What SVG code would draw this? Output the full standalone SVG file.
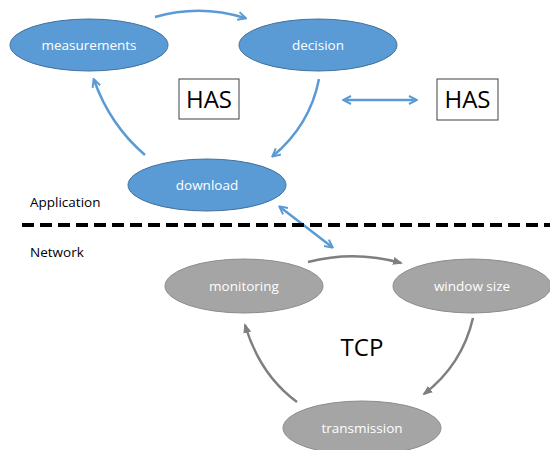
<svg xmlns="http://www.w3.org/2000/svg" width="550" height="450" viewBox="0 0 550 450">
<defs>
<style>
.bn{fill:#5B9BD5;stroke:#41719C;stroke-width:1}
.gn{fill:#A5A5A5;stroke:#8C8C8C;stroke-width:1}
.nt{font-family:"Open Sans","Liberation Sans",sans-serif;font-size:13.5px;fill:#FFFFFF;text-anchor:middle}
.lt{font-family:"Open Sans","Liberation Sans",sans-serif;font-size:13.5px;fill:#000000}
.big{font-family:"Open Sans","Liberation Sans",sans-serif;font-size:24px;fill:#000000;text-anchor:middle}
.box{fill:#FFFFFF;stroke:#404040;stroke-width:1}
.ba{fill:none;stroke:#5B9BD5;stroke-width:2.5}
.ga{fill:none;stroke:#7F7F7F;stroke-width:2.5}
</style>
<marker id="bh" viewBox="0 0 10 10" refX="8" refY="5" markerWidth="4" markerHeight="4" orient="auto-start-reverse" markerUnits="strokeWidth">
<path d="M1,1 L9,5 L1,9" fill="none" stroke="#5B9BD5" stroke-width="2"/>
</marker>
<marker id="gh" viewBox="0 0 10 10" refX="8" refY="5" markerWidth="4" markerHeight="4" orient="auto" markerUnits="strokeWidth">
<path d="M0,1 L10,5 L0,9 Z" fill="#7F7F7F"/>
</marker>
</defs>
<rect width="550" height="450" fill="#FFFFFF"/>

<g id="connectors">
<path class="ba" d="M155,17 Q200,4 245,18" marker-end="url(#bh)"/>
<path class="ba" d="M319,79 Q310,125 273,156" marker-end="url(#bh)"/>
<path class="ba" d="M145,155 Q110,125 94,80" marker-end="url(#bh)"/>
<path class="ba" d="M344,100 L416,100" marker-start="url(#bh)" marker-end="url(#bh)"/>
<path class="ba" d="M280,207 L332,247" marker-start="url(#bh)" marker-end="url(#bh)"/>
<path class="ga" d="M308,262 Q355,250 401,263" marker-end="url(#gh)"/>
<path class="ga" d="M473,318 Q462,365 424,394" marker-end="url(#gh)"/>
<path class="ga" d="M297,402 Q260,375 245,325" marker-end="url(#gh)"/>
</g>

<g id="divider">
<line x1="22" y1="225" x2="550" y2="225" stroke="#000000" stroke-width="4" stroke-dasharray="12,6"/>
<text class="lt" x="30" y="207">Application</text>
<text class="lt" x="30" y="257">Network</text>
</g>

<g id="measurements">
<ellipse class="bn" cx="89" cy="45" rx="79" ry="26"/>
<text class="nt" x="89" y="50">measurements</text>
</g>
<g id="decision">
<ellipse class="bn" cx="318" cy="45" rx="79" ry="26"/>
<text class="nt" x="318" y="50">decision</text>
</g>
<g id="download">
<ellipse class="bn" cx="207" cy="185" rx="79" ry="26"/>
<text class="nt" x="207" y="190">download</text>
</g>
<g id="has1">
<rect class="box" x="179" y="79" width="60" height="40"/>
<text class="big" x="209" y="108">HAS</text>
</g>
<g id="has2">
<rect class="box" x="437" y="79" width="61" height="41"/>
<text class="big" x="467.5" y="108">HAS</text>
</g>

<g id="monitoring">
<ellipse class="gn" cx="244" cy="286" rx="79" ry="27"/>
<text class="nt" x="244" y="291">monitoring</text>
</g>
<g id="window-size">
<ellipse class="gn" cx="472" cy="286" rx="79" ry="27"/>
<text class="nt" x="472" y="291">window size</text>
</g>
<g id="transmission">
<ellipse class="gn" cx="362" cy="428" rx="79" ry="27"/>
<text class="nt" x="362" y="433">transmission</text>
</g>
<g id="tcp">
<text class="big" x="362" y="356">TCP</text>
</g>
</svg>
